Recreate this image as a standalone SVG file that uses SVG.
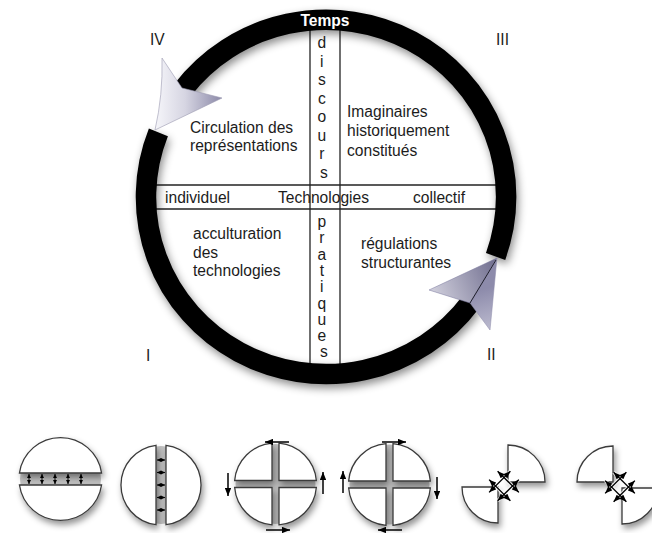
<svg xmlns="http://www.w3.org/2000/svg" width="652" height="533" viewBox="0 0 652 533">
  <defs>
    <style>
      .t{font-family:"Liberation Sans",Arial,Helvetica,sans-serif;font-size:15.6px;fill:#1c1c1c}
      .mid{text-anchor:middle}
      .grid{stroke:#222;stroke-width:1.3;fill:none}
      .ring{fill:none;stroke:#000;stroke-width:20.5;stroke-linecap:butt}
      .piece{fill:#fff;stroke:#3a3a3a;stroke-width:1.3}
      .gap{fill:#c2c2c2}
      .mv{stroke:#000;stroke-width:1.5;fill:none;marker-end:url(#ah)}
      .tiny{stroke:#111;stroke-width:1.1;marker-start:url(#th);marker-end:url(#th)}
      .dbl{stroke:#000;stroke-width:1.4;marker-start:url(#dh);marker-end:url(#dh)}
      .halo{stroke:#fff;stroke-width:3.5;opacity:0.8}
    </style>
    <filter id="ringShadow" x="-10%" y="-10%" width="125%" height="125%">
      <feDropShadow dx="2" dy="4" stdDeviation="4" flood-color="#000" flood-opacity="0.45"/>
    </filter>
    <filter id="shadow" x="-25%" y="-25%" width="160%" height="160%">
      <feDropShadow dx="2" dy="4" stdDeviation="3" flood-color="#000" flood-opacity="0.42"/>
    </filter>
    <marker id="ah" viewBox="0 0 10 8" refX="10" refY="4" markerWidth="5.5" markerHeight="4.4" orient="auto">
      <path d="M0,0 L10,4 L0,8 Z" fill="#000"/>
    </marker>
    <marker id="th" viewBox="0 0 10 10" refX="10" refY="5" markerWidth="4" markerHeight="4" orient="auto-start-reverse">
      <path d="M0,0 L10,5 L0,10 Z" fill="#000"/>
    </marker>
    <marker id="dh" viewBox="0 0 10 8" refX="10" refY="4" markerWidth="5.2" markerHeight="4.2" orient="auto-start-reverse">
      <path d="M0,0 L10,4 L0,8 Z" fill="#000"/>
    </marker>
    <linearGradient id="gIV" gradientUnits="userSpaceOnUse" x1="155" y1="100" x2="222" y2="100">
      <stop offset="0" stop-color="#f6f6fa"/>
      <stop offset="0.45" stop-color="#d6d5e2"/>
      <stop offset="1" stop-color="#8b89a8"/>
    </linearGradient>
    <linearGradient id="gIIa" gradientUnits="userSpaceOnUse" x1="429" y1="290" x2="497" y2="262">
      <stop offset="0" stop-color="#d2d1de"/>
      <stop offset="1" stop-color="#6f6d8e"/>
    </linearGradient>
    <linearGradient id="gIIb" gradientUnits="userSpaceOnUse" x1="480" y1="290" x2="492" y2="330">
      <stop offset="0" stop-color="#8d8bab"/>
      <stop offset="1" stop-color="#bdbcd0"/>
    </linearGradient>
  </defs>

  <!-- main cycle -->
  <g id="quadrant-grid">
    <line class="grid" x1="310" y1="20" x2="310" y2="374"/>
    <line class="grid" x1="340" y1="20" x2="340" y2="374"/>
    <line class="grid" x1="148" y1="185" x2="504" y2="185"/>
    <line class="grid" x1="148" y1="209" x2="504" y2="209"/>
  </g>

  <g id="time-ring" filter="url(#ringShadow)">
    <path class="ring" d="M495.6,256.4 A180,177 0 0 0 182.4,90.2"/>
    <path class="ring" d="M158.4,132.4 A180,177 0 0 0 470.9,302"/>
  </g>

  <g id="arrow-iv">
    <path d="M155,130 L222,98 L182,88 L162,58 Q163,95 155,130 Z" fill="url(#gIV)" stroke="#9a99b0" stroke-width="0.6"/>
  </g>

  <g id="arrow-ii">
    <path d="M497,258 L429,290 L470,303 Z" fill="url(#gIIa)" stroke="#77759a" stroke-width="0.5"/>
    <path d="M497,258 L470,303 L490,330 Z" fill="url(#gIIb)" stroke="#8a88a8" stroke-width="0.5"/>
    <line x1="496" y1="260" x2="470" y2="303" stroke="#1e1e2a" stroke-width="1"/>
  </g>

  <g id="label-temps">
    <text class="t mid" x="325" y="26" style="font-weight:bold;fill:#fff">Temps</text>
  </g>

  <g id="quadrant-numbers">
    <text class="t" x="150" y="45">IV</text>
    <text class="t" x="496" y="45">III</text>
    <text class="t" x="146" y="361">I</text>
    <text class="t" x="487" y="360">II</text>
  </g>

  <g id="axis-discours">
    <text class="t mid">
      <tspan x="324" y="48">d</tspan>
      <tspan x="324" y="66.5">i</tspan>
      <tspan x="324" y="85">s</tspan>
      <tspan x="324" y="103.5">c</tspan>
      <tspan x="324" y="122">o</tspan>
      <tspan x="324" y="140.5">u</tspan>
      <tspan x="324" y="159">r</tspan>
      <tspan x="324" y="177.5">s</tspan>
    </text>
  </g>

  <g id="axis-pratiques">
    <text class="t mid">
      <tspan x="324" y="227">p</tspan>
      <tspan x="324" y="243.3">r</tspan>
      <tspan x="324" y="259.6">a</tspan>
      <tspan x="324" y="275.9">t</tspan>
      <tspan x="324" y="292.2">i</tspan>
      <tspan x="324" y="308.5">q</tspan>
      <tspan x="324" y="324.8">u</tspan>
      <tspan x="324" y="341.1">e</tspan>
      <tspan x="324" y="357.4">s</tspan>
    </text>
  </g>

  <g id="axis-technologies">
    <text class="t" x="165" y="203">individuel</text>
    <text class="t" x="278" y="203">Technologies</text>
    <text class="t" x="413" y="203">collectif</text>
  </g>

  <g id="q-iv">
    <text class="t" x="190" y="133">Circulation des</text>
    <text class="t" x="190" y="151">représentations</text>
  </g>
  <g id="q-iii">
    <text class="t" x="347" y="116.5">Imaginaires</text>
    <text class="t" x="347" y="136">historiquement</text>
    <text class="t" x="347" y="155.5">constitués</text>
  </g>
  <g id="q-i">
    <text class="t" x="193" y="239">acculturation</text>
    <text class="t" x="193" y="257.5">des</text>
    <text class="t" x="193" y="276">technologies</text>
  </g>
  <g id="q-ii">
    <text class="t" x="361" y="248.5">régulations</text>
    <text class="t" x="361" y="267.5">structurantes</text>
  </g>

  <!-- small schemes -->
  <g id="fig-split-h">
    <circle class="gap" cx="60.5" cy="479" r="40.5"/>
    <g filter="url(#shadow)">
      <path class="piece" d="M19.44,473 A41.5,41.5 0 0 1 101.56,473 Z"/>
      <path class="piece" d="M19.44,485 A41.5,41.5 0 0 0 101.56,485 Z"/>
    </g>
    <line class="tiny" x1="29" y1="474" x2="29" y2="484"/>
    <line class="tiny" x1="42" y1="474" x2="42" y2="484"/>
    <line class="tiny" x1="55" y1="474" x2="55" y2="484"/>
    <line class="tiny" x1="68" y1="474" x2="68" y2="484"/>
    <line class="tiny" x1="81" y1="474" x2="81" y2="484"/>
  </g>

  <g id="fig-split-v">
    <circle class="gap" cx="161" cy="485" r="39"/>
    <g filter="url(#shadow)">
      <path class="piece" d="M156,445.31 A40,40 0 0 0 156,524.69 Z"/>
      <path class="piece" d="M166,445.31 A40,40 0 0 1 166,524.69 Z"/>
    </g>
    <line class="tiny" x1="157" y1="460" x2="165" y2="460"/>
    <line class="tiny" x1="157" y1="472.5" x2="165" y2="472.5"/>
    <line class="tiny" x1="157" y1="485" x2="165" y2="485"/>
    <line class="tiny" x1="157" y1="497.5" x2="165" y2="497.5"/>
    <line class="tiny" x1="157" y1="510" x2="165" y2="510"/>
  </g>

  <g id="fig-quarters-ccw">
    <circle class="gap" cx="275.5" cy="484" r="40"/>
    <g filter="url(#shadow)">
      <path class="piece" d="M272,480.5 L234.65,480.5 A41,41 0 0 1 272,443.15 Z"/>
      <path class="piece" d="M279,480.5 L279,443.15 A41,41 0 0 1 316.35,480.5 Z"/>
      <path class="piece" d="M279,487.5 L316.35,487.5 A41,41 0 0 1 279,524.85 Z"/>
      <path class="piece" d="M272,487.5 L272,524.85 A41,41 0 0 1 234.65,487.5 Z"/>
    </g>
    <line class="mv" x1="289" y1="442" x2="265" y2="442"/>
    <line class="mv" x1="323" y1="494" x2="323" y2="472"/>
    <line class="mv" x1="266" y1="530" x2="290" y2="530"/>
    <line class="mv" x1="228" y1="473" x2="228" y2="496"/>
  </g>

  <g id="fig-quarters-cw">
    <circle class="gap" cx="389.5" cy="484.5" r="40"/>
    <g filter="url(#shadow)">
      <path class="piece" d="M386,481 L348.65,481 A41,41 0 0 1 386,443.65 Z"/>
      <path class="piece" d="M393,481 L393,443.65 A41,41 0 0 1 430.35,481 Z"/>
      <path class="piece" d="M393,488 L430.35,488 A41,41 0 0 1 393,525.35 Z"/>
      <path class="piece" d="M386,488 L386,525.35 A41,41 0 0 1 348.65,488 Z"/>
    </g>
    <line class="mv" x1="382" y1="442" x2="406" y2="442"/>
    <line class="mv" x1="437" y1="477" x2="437" y2="499"/>
    <line class="mv" x1="402" y1="530" x2="378" y2="530"/>
    <line class="mv" x1="343" y1="493" x2="343" y2="471"/>
  </g>

  <g id="fig-diagonal-a">
    <g filter="url(#shadow)">
      <path class="piece" d="M508,482 L508,445 A37,37 0 0 1 545,482 Z"/>
      <path class="piece" d="M498,487 L498,523 A36,36 0 0 1 462,487 Z"/>
    </g>
    <g>
      <line class="halo" x1="497.63" y1="500.85" x2="518.85" y2="479.63"/>
      <line class="halo" x1="489.15" y1="492.37" x2="510.37" y2="471.15"/>
      <line class="halo" x1="497.63" y1="471.15" x2="518.85" y2="492.37"/>
      <line class="halo" x1="489.15" y1="479.63" x2="510.37" y2="500.85"/>
      <line class="dbl" x1="497.63" y1="500.85" x2="518.85" y2="479.63"/>
      <line class="dbl" x1="489.15" y1="492.37" x2="510.37" y2="471.15"/>
      <line class="dbl" x1="497.63" y1="471.15" x2="518.85" y2="492.37"/>
      <line class="dbl" x1="489.15" y1="479.63" x2="510.37" y2="500.85"/>
    </g>
  </g>

  <g id="fig-diagonal-b">
    <g filter="url(#shadow)">
      <path class="piece" d="M613,482 L577,482 A36,36 0 0 1 613,446 Z"/>
      <path class="piece" d="M622,488 L658,488 A36,36 0 0 1 622,524 Z"/>
    </g>
    <g>
      <line class="halo" x1="613.63" y1="501.85" x2="634.85" y2="480.63"/>
      <line class="halo" x1="605.15" y1="493.37" x2="626.37" y2="472.15"/>
      <line class="halo" x1="613.63" y1="472.15" x2="634.85" y2="493.37"/>
      <line class="halo" x1="605.15" y1="480.63" x2="626.37" y2="501.85"/>
      <line class="dbl" x1="613.63" y1="501.85" x2="634.85" y2="480.63"/>
      <line class="dbl" x1="605.15" y1="493.37" x2="626.37" y2="472.15"/>
      <line class="dbl" x1="613.63" y1="472.15" x2="634.85" y2="493.37"/>
      <line class="dbl" x1="605.15" y1="480.63" x2="626.37" y2="501.85"/>
    </g>
  </g>
</svg>
